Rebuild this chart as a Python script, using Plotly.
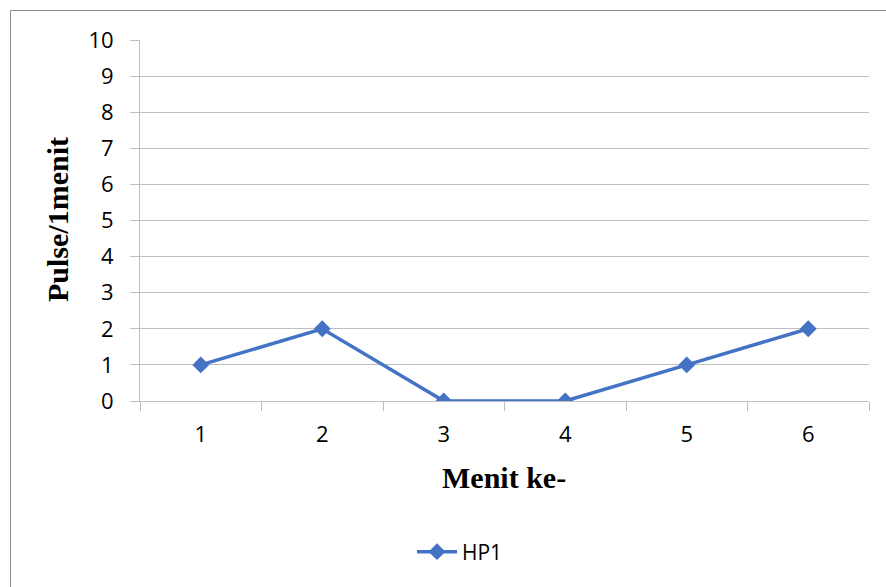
import plotly.graph_objects as go

# Pulse count per minute for sensor HP1
minutes = ["1", "2", "3", "4", "5", "6"]
pulses = [1, 2, 0, 0, 1, 2]
y_ticks = [0, 1, 2, 3, 4, 5, 6, 7, 8, 9, 10]

W, H = 886, 587
L, R, T, B = 140, 17, 40, 186
pw, ph = W - L - R, H - T - B

def px_x(x):
    return (x - L) / pw

def px_y(y):
    return (H - B - y) / ph

BLUE = "#4472C4"
GRID = "#BFBFBF"
TICK_FONT = dict(family="Open Sans", size=22, color="#000000")
TITLE_FONT = dict(family="Liberation Serif", size=30, color="#000000")

fig = go.Figure()
fig.add_trace(go.Scatter(
    x=minutes, y=pulses, mode="lines+markers", name="HP1",
    line=dict(color=BLUE, width=3.5),
    marker=dict(symbol="diamond", size=13, color=BLUE),
))

fig.update_layout(
    width=W, height=H,
    margin=dict(l=L, r=R, t=T, b=B),
    paper_bgcolor="white", plot_bgcolor="white",
    showlegend=True,
    legend=dict(orientation="h", x=px_x(460), xanchor="center",
                y=px_y(552), yanchor="middle",
                font=dict(family="Open Sans", size=21, color="#000000"),
                itemwidth=40),
    xaxis=dict(type="category", range=[-0.5, 5.5], tickson="boundaries",
               ticks="outside", ticklen=9, tickcolor=GRID, tickwidth=1,
               showgrid=False, showline=True, linecolor=GRID, linewidth=1,
               tickfont=TICK_FONT, ticklabelstandoff=14, zeroline=False),
    yaxis=dict(range=[0, 10], tickvals=y_ticks, ticks="outside", ticklen=9,
               tickcolor=GRID, tickwidth=1, showgrid=True, gridcolor=GRID,
               gridwidth=1, showline=True, linecolor=GRID, linewidth=1,
               tickfont=TICK_FONT, ticklabelstandoff=12, zeroline=False),
    annotations=[
        dict(text="<b>Menit ke-</b>", x=px_x(504), y=px_y(477),
             xref="paper", yref="paper", showarrow=False,
             xanchor="center", yanchor="middle", font=TITLE_FONT),
        dict(text="<b>Pulse/1menit</b>", x=px_x(57), y=px_y(220),
             xref="paper", yref="paper", showarrow=False, textangle=-90,
             xanchor="center", yanchor="middle", font=TITLE_FONT),
    ],
    shapes=[
        dict(type="rect", xref="paper", yref="paper",
             x0=px_x(10.5), x1=px_x(890), y0=px_y(10.5), y1=px_y(600),
             line=dict(color="#8C8C8C", width=1), fillcolor="rgba(0,0,0,0)",
             layer="below"),
    ],
)

fig.write_html("out.html")
